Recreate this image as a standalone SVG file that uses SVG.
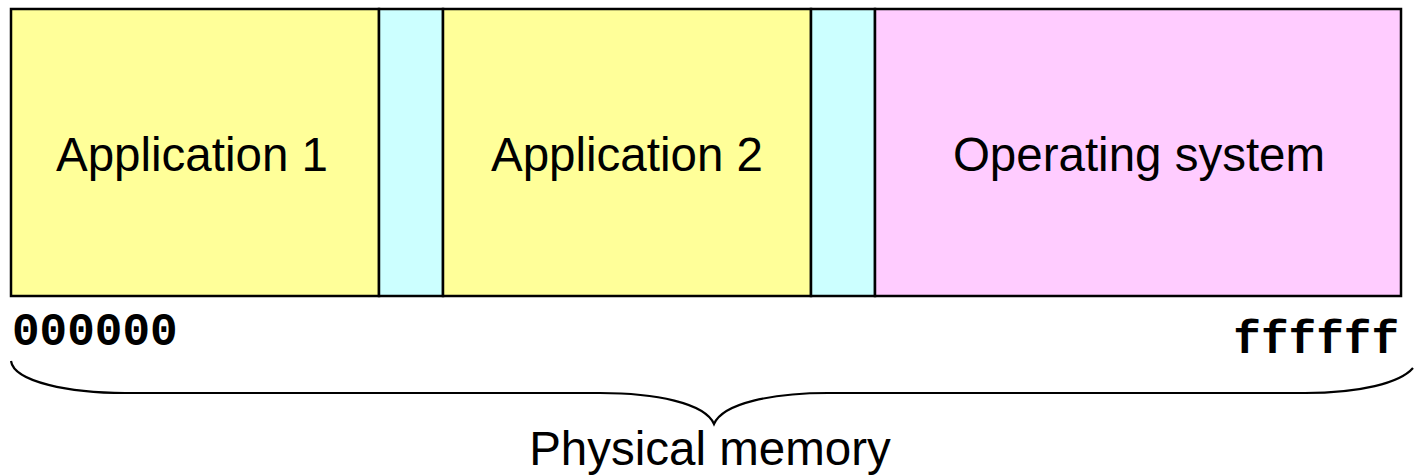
<svg xmlns="http://www.w3.org/2000/svg" width="1414" height="476" viewBox="0 0 1414 476">
<style>
.box{stroke:#000;stroke-width:2.5}
.app{fill:#FFFF99}
.gap{fill:#CCFFFF}
.os{fill:#FFCCFF}
.lbl{font-family:"Liberation Sans",Arial,sans-serif;font-size:47.5px;fill:#000;text-anchor:middle}
.addr{font-family:"Liberation Mono","Courier New",monospace;font-size:46px;font-weight:bold;fill:#000}
.brace{fill:none;stroke:#000;stroke-width:2.2}
</style>
<rect x="0" y="0" width="1414" height="476" fill="#fff"/>
<g id="app1"><rect class="box app" x="11" y="9" width="368" height="287"/><text class="lbl" x="192" y="171">Application 1</text></g>
<g id="gap1"><rect class="box gap" x="379" y="9" width="64" height="287"/></g>
<g id="app2"><rect class="box app" x="443" y="9" width="368" height="287"/><text class="lbl" x="627" y="171">Application 2</text></g>
<g id="gap2"><rect class="box gap" x="811" y="9" width="64" height="287"/></g>
<g id="os"><rect class="box os" x="875" y="9" width="526" height="287"/><text class="lbl" x="1139" y="171">Operating system</text></g>
<g id="addr-low"><text class="addr" x="12" y="345">000000</text></g>
<g id="addr-high"><text class="addr" x="1399" y="353" text-anchor="end">ffffff</text></g>
<g id="connectors"><path class="brace" d="M11,361 C14,382 70,393 125,393 L600,393 C655,393 705,403 714,424 C723,403 773,393 828,393 L1305,393 C1360,393 1400,383 1413,368"/></g>
<g id="memory"><text class="lbl" x="710" y="465">Physical memory</text></g>
</svg>
